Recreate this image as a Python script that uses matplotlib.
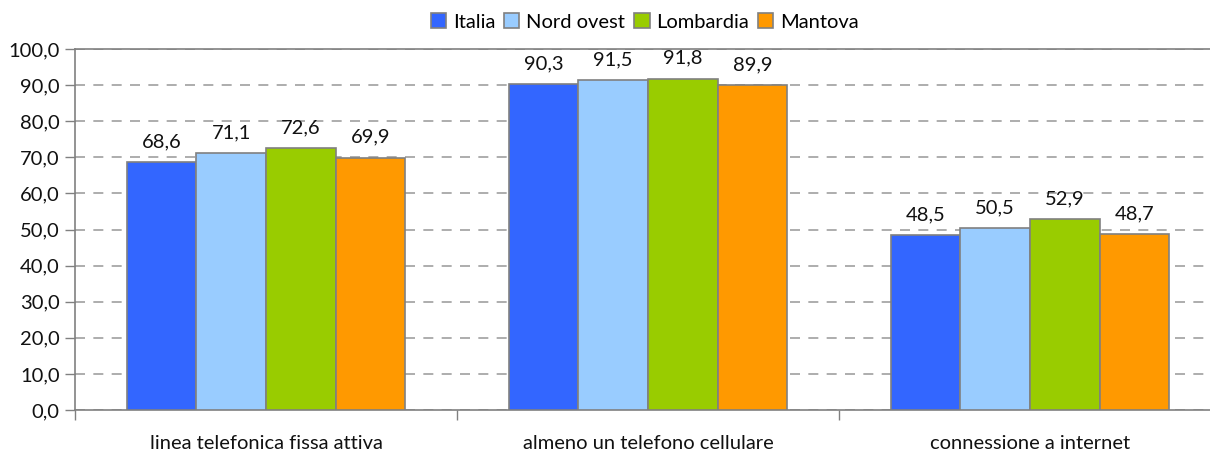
import matplotlib
matplotlib.use("Agg")
import matplotlib.pyplot as plt
import numpy as np

categories = ["linea telefonica fissa attiva", "almeno un telefono cellulare", "connessione a internet"]
series = ["Italia", "Nord ovest", "Lombardia", "Mantova"]
italia = [68.6, 90.3, 48.5]
nord_ovest = [71.1, 91.5, 50.5]
lombardia = [72.6, 91.8, 52.9]
mantova = [69.9, 89.9, 48.7]
colors = ["#3366FF", "#99CCFF", "#99CC00", "#FF9900"]
yticks = [0, 10, 20, 30, 40, 50, 60, 70, 80, 90, 100]

plt.rcParams['font.family'] = ['Lato', 'DejaVu Sans']

W, H = 1210, 453
fig = plt.figure(figsize=(W/100, H/100), dpi=100)
left, right, top, bottom = 75, 1221, 49, 410
ax = fig.add_axes([left/W, 1-bottom/H, (right-left)/W, (bottom-top)/H])

FS = 14.5
data = [italia, nord_ovest, lombardia, mantova]
x = np.arange(len(categories))
bw = 0.182
for i, (vals, c, name) in enumerate(zip(data, colors, series)):
    pos = x + (i - 1.5) * bw
    ax.bar(pos, vals, width=bw, color=c, edgecolor="#808080", linewidth=1.2, label=name, zorder=3)
    for p, v in zip(pos, vals):
        ax.annotate(f"{v:.1f}".replace(".", ","), (p, v), xytext=(0, 8.5), textcoords="offset points",
                    ha="center", va="bottom", fontsize=FS, color="#111111")

ax.set_xlim(-0.5, 2.5)
ax.set_ylim(0, 100)
ax.set_yticks(yticks)
ax.set_yticklabels([f"{t:.1f}".replace(".", ",") for t in yticks], fontsize=FS, color="#111111")
ax.yaxis.grid(True, linestyle=(0, (6, 5)), color="#A0A0A0", linewidth=1.2, zorder=0)
ax.set_axisbelow(True)

ax.set_xticks([-0.5, 0.5, 1.5, 2.5])
ax.set_xticklabels([])
ax.set_xticks(x, minor=True)
ax.set_xticklabels(categories, minor=True, fontsize=FS, color="#111111")
ax.tick_params(axis="x", which="minor", length=0, pad=18)
ax.tick_params(axis="x", which="major", length=7, color="#808080", width=1)
ax.tick_params(axis="y", length=7, color="#808080", width=1, pad=4)

for s in ["left", "bottom", "top"]:
    ax.spines[s].set_color("#808080")
    ax.spines[s].set_linewidth(1.2)
ax.spines["right"].set_visible(False)

handles, labels = ax.get_legend_handles_labels()
fig.legend(handles, labels, loc="center", bbox_to_anchor=(0.533, 1-22/H), ncol=4, frameon=False,
           fontsize=FS, handlelength=0.75, handleheight=0.75, handletextpad=0.35, columnspacing=0.45)

fig.savefig("out.png", dpi=100)
